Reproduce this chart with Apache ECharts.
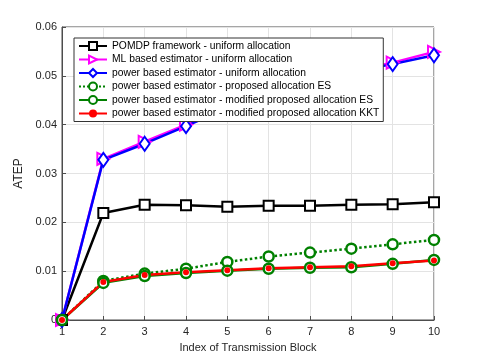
<!DOCTYPE html>
<html>
<head>
<meta charset="utf-8">
<script src="https://cdn.jsdelivr.net/npm/echarts@6/dist/echarts.min.js"></script>
<style>
    html, body {margin: 0; padding: 0; background: #fff;}
    #chart {width: 480px; height: 360px;}
</style>
</head>
<body>
<div id="chart"></div>
<script>
    // x axis: index of transmission block
    var blocks = [1, 2, 3, 4, 5, 6, 7, 8, 9, 10];
    var yTicks = [0, 0.01, 0.02, 0.03, 0.04, 0.05, 0.06];

    var names = [
        'POMDP framework - uniform allocation',
        'ML based estimator - uniform allocation',
        'power based estimator - uniform allocation',
        'power based estimator - proposed allocation ES',
        'power based estimator - modified proposed allocation ES',
        'power based estimator - modified proposed allocation KKT'
    ];

    var pomdpUniform = [0, 0.0219, 0.0236, 0.0235, 0.0232, 0.0234, 0.0234, 0.0236, 0.0237, 0.0241];
    var mlUniform = [0, 0.0330, 0.0365, 0.0400, 0.0437, 0.0467, 0.0492, 0.0510, 0.0527, 0.0549];
    var powerUniform = [0, 0.0328, 0.0361, 0.0397, 0.0434, 0.0464, 0.0489, 0.0508, 0.0524, 0.0542];
    var powerProposedES = [0, 0.0080, 0.0095, 0.0105, 0.0119, 0.0130, 0.0138, 0.0146, 0.0155, 0.0164];
    var powerModifiedES = [0, 0.0076, 0.0090, 0.0096, 0.0101, 0.0105, 0.0107, 0.0108, 0.0115, 0.0123];
    var powerModifiedKKT = [0, 0.0078, 0.0092, 0.0098, 0.0102, 0.0106, 0.0108, 0.0110, 0.0116, 0.0122];

    function pairs(arr){
        return arr.map(function(v, i){ return [blocks[i], v]; });
    }

    var font = 'Liberation Sans, Arial, sans-serif';
    var axisColor = '#4d4d4d';

    var myChart = echarts.init(document.getElementById('chart'));
    myChart.setOption({
        animation: false,
        backgroundColor: '#fff',
        grid: {left: 62, right: 46, top: 27, bottom: 40, show: true, borderColor: axisColor, borderWidth: 1},
        legend: {
            orient: 'vertical',
            left: 74,
            top: 38,
            backgroundColor: '#fff',
            borderColor: '#333',
            borderWidth: 1,
            borderRadius: 0,
            padding: [3, 4, 3, 4],
            itemGap: 3.5,
            itemWidth: 28,
            itemHeight: 10,
            textStyle: {fontFamily: font, fontSize: 10.3, color: '#000'},
            data: names
        },
        xAxis: {
            type: 'value',
            min: 1,
            max: 10,
            interval: 1,
            name: 'Index of Transmission Block',
            nameLocation: 'middle',
            nameGap: 22,
            nameTextStyle: {fontFamily: font, fontSize: 11, color: '#262626'},
            axisLine: {lineStyle: {color: axisColor}},
            axisTick: {inside: true, length: 4, lineStyle: {color: axisColor}},
            axisLabel: {fontFamily: font, fontSize: 11, color: '#262626', margin: 6},
            splitLine: {show: true, lineStyle: {color: '#e3e3e3'}}
        },
        yAxis: {
            type: 'value',
            min: yTicks[0],
            max: yTicks[yTicks.length - 1],
            interval: 0.01,
            name: 'ATEP',
            nameLocation: 'middle',
            nameGap: 29,
            nameTextStyle: {fontFamily: font, fontSize: 12, color: '#262626'},
            axisLine: {show: true, lineStyle: {color: axisColor}},
            axisTick: {show: true, inside: true, length: 4, lineStyle: {color: axisColor}},
            axisLabel: {fontFamily: font, fontSize: 11, color: '#262626', margin: 5},
            splitLine: {show: true, lineStyle: {color: '#e3e3e3'}}
        },
        series: [
            {
                name: names[0], type: 'line', data: pairs(pomdpUniform),
                symbol: 'rect', symbolSize: 10,
                lineStyle: {color: '#000', width: 2.5},
                itemStyle: {color: '#fff', borderColor: '#000', borderWidth: 2}
            },
            {
                name: names[1], type: 'line', data: pairs(mlUniform),
                symbol: 'triangle', symbolSize: 12, symbolRotate: -90,
                lineStyle: {color: '#ff00ff', width: 2.5},
                itemStyle: {color: '#fff', borderColor: '#ff00ff', borderWidth: 2}
            },
            {
                name: names[2], type: 'line', data: pairs(powerUniform),
                symbol: 'diamond', symbolSize: [10, 14],
                lineStyle: {color: '#0000ff', width: 2.5},
                itemStyle: {color: '#fff', borderColor: '#0000ff', borderWidth: 2}
            },
            {
                name: names[3], type: 'line', data: pairs(powerProposedES),
                symbol: 'circle', symbolSize: 10,
                lineStyle: {color: '#008000', width: 2.5, type: 'dotted'},
                itemStyle: {color: '#fff', borderColor: '#008000', borderWidth: 2.5}
            },
            {
                name: names[4], type: 'line', data: pairs(powerModifiedES),
                symbol: 'circle', symbolSize: 10,
                lineStyle: {color: '#008000', width: 2.5},
                itemStyle: {color: '#fff', borderColor: '#008000', borderWidth: 2.5}
            },
            {
                name: names[5], type: 'line', data: pairs(powerModifiedKKT),
                symbol: 'circle', symbolSize: 6,
                lineStyle: {color: '#ff0000', width: 2.5},
                itemStyle: {color: '#ff0000'}
            }
        ]
    });
</script>
</body>
</html>
